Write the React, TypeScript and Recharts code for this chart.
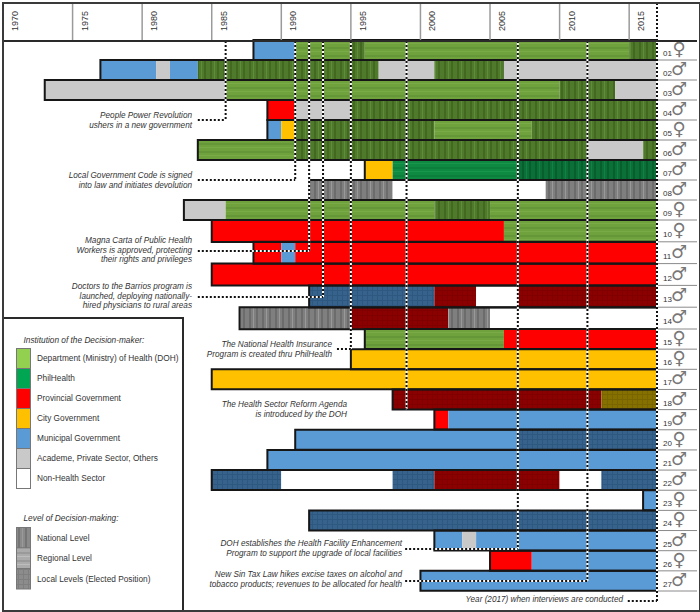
import { Bar, BarChart, Cell, LineChart, ReferenceLine, XAxis, YAxis } from "recharts"

const FONT = "'Liberation Sans', Arial, sans-serif"

const yearTicks = [1970, 1975, 1980, 1985, 1990, 1995, 2000, 2005, 2010, 2015]
const firstYear = 1970
const lastYear = 2017

const rowIds = ["01", "02", "03", "04", "05", "06", "07", "08", "09", "10", "11", "12", "13", "14", "15", "16", "17", "18", "19", "20", "21", "22", "23", "24", "25", "26", "27"]
const rowSexes = ["F", "M", "M", "M", "F", "M", "M", "M", "F", "F", "M", "M", "M", "M", "F", "F", "M", "M", "M", "F", "M", "M", "F", "F", "M", "F", "M"]
const rowStarts = [1988, 1977, 1973, 1989, 1989, 1984, 1996, 1992, 1983, 1985, 1988, 1985, 1992, 1987, 1996, 1995, 1985, 1998, 2001, 1991, 1989, 1985, 2016, 1992, 2001, 2005, 2000]

// each row: [institution+level, year the post ended]
const row01 = [["mun", 1991], ["dohR", 1995], ["dohN", 1996], ["dohR", 2015], ["dohN", 2017]]
const row02 = [["mun", 1981], ["oth", 1982], ["mun", 1984], ["dohN", 1997], ["oth", 2001], ["dohN", 2006], ["oth", 2017]]
const row03 = [["oth", 1986], ["dohR", 2010], ["dohN", 2014], ["oth", 2017]]
const row04 = [["prov", 1991], ["oth", 1995], ["dohN", 2017]]
const row05 = [["mun", 1990], ["city", 1991], ["dohN", 2001], ["dohR", 2008], ["dohN", 2017]]
const row06 = [["dohR", 1991], ["dohN", 2012], ["oth", 2016], ["dohN", 2017]]
const row07 = [["city", 1998], ["philR", 2007], ["philN", 2017]]
const row08 = [["noneN", 1998], ["none", 2009], ["noneN", 2017]]
const row09 = [["oth", 1986], ["dohR", 2001], ["dohN", 2005], ["dohR", 2017]]
const row10 = [["prov", 2006], ["dohR", 2017]]
const row11 = [["prov", 1990], ["mun", 1991], ["prov", 2017]]
const row12 = [["prov", 2017]]
const row13 = [["munL", 2001], ["provL", 2004], ["none", 2007], ["provL", 2017]]
const row14 = [["noneN", 1995], ["provL", 2002], ["noneN", 2005], ["none", 2017]]
const row15 = [["dohR", 2006], ["prov", 2017]]
const row16 = [["city", 2017]]
const row17 = [["city", 2017]]
const row18 = [["provL", 2013], ["cityL", 2017]]
const row19 = [["prov", 2002], ["mun", 2017]]
const row20 = [["mun", 2007], ["munL", 2017]]
const row21 = [["mun", 2017]]
const row22 = [["munL", 1990], ["none", 1998], ["munL", 2001], ["provL", 2010], ["none", 2013], ["munL", 2017]]
const row23 = [["mun", 2017]]
const row24 = [["munL", 2017]]
const row25 = [["mun", 2003], ["oth", 2004], ["mun", 2017]]
const row26 = [["prov", 2008], ["mun", 2017]]
const row27 = [["mun", 2017]]

const allRows = [row01, row02, row03, row04, row05, row06, row07, row08, row09, row10, row11, row12, row13, row14, row15, row16, row17, row18, row19, row20, row21, row22, row23, row24, row25, row26, row27]

// policy events: year of the dotted line, where its connector starts, and its height on the page
const eventYears = [1986, 1991, 1992, 1993, 1995, 1999, 2007, 2012]
const eventTextEnd = [1984, 1984, 1984, 1984, 1994, 1998.9, 1998.9, 1998.9]
const eventY = [120, 180, 251, 297, 349, 409, 549, 581]

const fills = {
  none: "#ffffff",
  noneN: "url(#noneN)",
  oth: "#c9c9c9",
  mun: "#5b9bd5",
  munL: "url(#munL)",
  city: "#ffc000",
  cityL: "url(#cityL)",
  prov: "#ff0000",
  provL: "url(#provL)",
  dohR: "url(#dohR)",
  dohN: "url(#dohN)",
  philR: "url(#philR)",
  philN: "url(#philN)",
}

const maxSegments = Math.max(...allRows.map((r) => r.length))

const table = allRows.map((segments, i) => {
  const row: any = {
    id: rowIds[i],
    sex: rowSexes[i],
    lead: rowStarts[i],
    span: [rowStarts[i], lastYear],
    codes: segments.map((s) => s[0]),
  }
  let prev = rowStarts[i]
  for (let k = 0; k < maxSegments; k++) {
    row[`s${k}`] = segments[k] ? (segments[k][1] as number) - prev : 0
    if (segments[k]) prev = segments[k][1] as number
  }
  return row
})

function Patterns() {
  const vertical = (id, a, b, c) => (
    <pattern id={id} width="13" height="4" patternUnits="userSpaceOnUse">
      <rect width="13" height="4" fill={a} />
      <rect x="2" width="2" height="4" fill={b} />
      <rect x="6" width="1" height="4" fill={c} />
      <rect x="9" width="2" height="4" fill={b} />
    </pattern>
  )
  const horizontal = (id, a, b, c) => (
    <pattern id={id} width="4" height="8" patternUnits="userSpaceOnUse">
      <rect width="4" height="8" fill={a} />
      <rect y="1" width="4" height="2" fill={b} />
      <rect y="5" width="4" height="1" fill={c} />
    </pattern>
  )
  const plaid = (id, a, b) => (
    <pattern id={id} width="5" height="5" patternUnits="userSpaceOnUse">
      <rect width="5" height="5" fill={a} />
      <rect x="2" width="1" height="5" fill={b} />
      <rect y="2" width="5" height="1" fill={b} />
    </pattern>
  )
  return (
    <svg width="0" height="0" style={{ position: "absolute" }}>
      <defs>
        {vertical("dohN", "#4f7a2c", "#42691f", "#5f8c38")}
        {horizontal("dohR", "#6fa13d", "#659739", "#79aa47")}
        {vertical("philN", "#0b7038", "#075f2e", "#118045")}
        {horizontal("philR", "#0f8a42", "#0c7f3c", "#17964c")}
        {vertical("noneN", "#7f7f7f", "#6c6c6c", "#999999")}
        {plaid("munL", "#36628b", "#2f5880")}
        {plaid("provL", "#8b0000", "#800000")}
        {plaid("cityL", "#857000", "#7a6600")}
        {vertical("legN", "#8a8a8a", "#757575", "#9a9a9a")}
        {horizontal("legR", "#ababab", "#9a9a9a", "#bdbdbd")}
        {plaid("legL", "#8c8c8c", "#7f7f7f")}
      </defs>
    </svg>
  )
}

function RowTick({ x, y, payload, rowHeight }: any) {
  const sex = rowSexes[rowIds.indexOf(payload.value)]
  return (
    <g>
      <line x1={x} x2={x + 40} y1={y + rowHeight / 2} y2={y + rowHeight / 2} stroke="#8a8a8a" strokeWidth={1} />
      <text x={x + 6} y={y + 6} fontSize={8} fontFamily={FONT} fill="#333">
        {payload.value}
      </text>
      <text x={x + 22} y={y + 5} textAnchor="middle" fontSize={18} fontFamily="'DejaVu Sans'" fill="#777">
        {sex === "F" ? "♀" : "♂"}
      </text>
    </g>
  )
}

function RowChart({ from, to, top, bottom }: any) {
  const data = table.slice(from, to)
  const rowHeight = (bottom - top) / data.length
  return (
    <div style={{ position: "absolute", left: 0, top: top - 2 }}>
      <BarChart
        width={700}
        height={bottom - top + 4}
        data={data}
        layout="vertical"
        barCategoryGap={0}
        margin={{ top: 2, right: 3, bottom: 2, left: 3 }}
      >
        <XAxis type="number" domain={[firstYear, lastYear]} allowDataOverflow hide />
        <XAxis xAxisId="outline" type="number" domain={[firstYear, lastYear]} hide />
        <YAxis
          type="category"
          dataKey="id"
          orientation="right"
          width={40}
          axisLine={false}
          tickLine={false}
          tickSize={0}
          tickMargin={0}
          interval={0}
          tick={<RowTick rowHeight={rowHeight} />}
        />
        <YAxis yAxisId="outline" type="category" dataKey="id" orientation="right" hide />
        <Bar dataKey="lead" stackId="a" fill="none" isAnimationActive={false} />
        {Array.from({ length: maxSegments }, (_, k) => (
          <Bar key={k} dataKey={`s${k}`} stackId="a" isAnimationActive={false}>
            {data.map((row) => (
              <Cell key={row.id} fill={fills[row.codes[k]] || "none"} />
            ))}
          </Bar>
        ))}
        <Bar
          xAxisId="outline"
          yAxisId="outline"
          dataKey="span"
          fill="none"
          stroke="#161616"
          strokeWidth={2}
          isAnimationActive={false}
        />
      </BarChart>
    </div>
  )
}

function YearTick({ x, payload }: any) {
  return (
    <g>
      {payload.value > firstYear && <line x1={x} x2={x} y1={3} y2={40} stroke="#9a9a9a" strokeWidth={1.5} />}
      <text
        transform={`translate(${x + 15},21) rotate(-90)`}
        textAnchor="middle"
        fontSize={9}
        fontFamily={FONT}
        fill="#333"
      >
        {payload.value}
      </text>
    </g>
  )
}

function Overlay() {
  const dotted = (key, segment) => [
    <ReferenceLine key={`${key}w`} segment={segment} stroke="#ffffff" strokeWidth={2} ifOverflow="visible" />,
    <ReferenceLine key={`${key}b`} segment={segment} stroke="#111111" strokeWidth={2} strokeDasharray="2 2" ifOverflow="visible" />,
  ]
  return (
    <div style={{ position: "absolute", left: 0, top: 0 }}>
      <LineChart
        width={700}
        height={612}
        data={yearTicks.map((year) => ({ year }))}
        margin={{ top: 3, right: 43, bottom: 0, left: 3 }}
      >
        <XAxis
          dataKey="year"
          type="number"
          orientation="top"
          domain={[firstYear, lastYear]}
          ticks={yearTicks}
          height={37}
          axisLine={false}
          tickLine={false}
          interval={0}
          tick={<YearTick />}
        />
        <YAxis type="number" domain={[40, 612]} allowDataOverflow reversed hide />
        {eventYears.flatMap((year, i) => [
          ...dotted(`v${i}`, [{ x: year, y: 41 }, { x: year, y: eventY[i] }]),
          ...dotted(`h${i}`, [{ x: eventTextEnd[i], y: eventY[i] }, { x: year, y: eventY[i] }]),
        ])}
        {dotted("v2017", [{ x: lastYear, y: 3 }, { x: lastYear, y: 601 }])}
        {dotted("h2017", [{ x: 2014.9, y: 601 }, { x: lastYear, y: 601 }])}
      </LineChart>
    </div>
  )
}

const notes = [
  { right: 192, y: 111, lines: ["People Power Revolution", "ushers in a new government"] },
  { right: 192, y: 171, lines: ["Local Government Code is signed", "into law and initiates devolution"] },
  { right: 192, y: 236, lines: ["Magna Carta of Public Health", "Workers is approved, protecting", "their rights and privileges"] },
  { right: 192, y: 282, lines: ["Doctors to the Barrios program is", "launched, deploying nationally-", "hired physicians to rural areas"] },
  { right: 332, y: 340, lines: ["The National Health Insurance", "Program is created thru PhilHealth"] },
  { right: 347, y: 400, lines: ["The Health Sector Reform Agenda", "is introduced by the DOH"] },
  { right: 402, y: 539, lines: ["DOH establishes the Health Facility Enhancement", "Program to support the upgrade of local facilities"] },
  { right: 402, y: 570, lines: ["New Sin Tax Law hikes excise taxes on alcohol and", "tobacco products; revenues to be allocated for health"] },
  { right: 623, y: 595, lines: ["Year (2017) when interviews are conducted"] },
]

const institutionLabels = ["Department (Ministry) of Health (DOH)", "PhilHealth", "Provincial Government", "City Government", "Municipal Government", "Academe, Private Sector, Others", "Non-Health Sector"]
const institutionColors = ["#92d050", "#00a651", "#ff0000", "#ffc000", "#5b9bd5", "#c9c9c9", "#ffffff"]
const levelLabels = ["National Level", "Regional Level", "Local Levels (Elected Position)"]
const levelFills = ["url(#legN)", "url(#legR)", "url(#legL)"]

function abs(left, top, extra = {}) {
  return { position: "absolute", left, top, ...extra } as any
}

function LegendBox() {
  const textStyle = { fontFamily: FONT, fontSize: 8.3, color: "#333", whiteSpace: "nowrap", lineHeight: "12px" }
  return (
    <div style={abs(2, 317, { width: 180, height: 291, borderTop: "2px solid #2a2a2a", borderRight: "2px solid #2a2a2a", background: "#fff" })}>
      <div style={abs(21.5, 15, { ...textStyle, fontStyle: "italic" })}>Institution of the Decision-maker:</div>
      {institutionLabels.map((label, i) => (
        <div key={label}>
          <div style={abs(14, 29 + i * 20, { width: 15, height: 20.5, background: institutionColors[i], border: "1px solid #777", boxSizing: "border-box" })} />
          <div style={abs(35, 33 + i * 20, textStyle)}>{label}</div>
        </div>
      ))}
      <div style={abs(21.5, 193, { ...textStyle, fontStyle: "italic" })}>Level of Decision-making:</div>
      <svg style={abs(14, 208)} width="15" height="63">
        {levelLabels.map((label, i) => (
          <rect key={label} x="0.5" y={0.5 + i * 20.5} width="14" height="20.5" fill={levelFills[i]} stroke="#777" />
        ))}
      </svg>
      {levelLabels.map((label, i) => (
        <div key={label} style={abs(35, 213 + i * 20.4, textStyle)}>{label}</div>
      ))}
    </div>
  )
}

export default function App() {
  return (
    <div style={{ position: "absolute", left: 0, top: 0, width: 700, height: 612, background: "#fff", overflow: "hidden" }}>
      <Patterns />
      <RowChart from={0} to={9} top={40} bottom={220} />
      <RowChart from={9} to={14} top={220} bottom={329} />
      <RowChart from={14} to={27} top={329} bottom={591} />
      <Overlay />
      <div style={abs(3, 39.5, { width: 694, height: 2, background: "#2a2a2a" })} />
      {notes.map((n) => (
        <div
          key={n.lines[0]}
          style={abs(n.right - 300, n.y, {
            width: 300,
            textAlign: "right",
            fontFamily: FONT,
            fontSize: 8.2,
            fontStyle: "italic",
            lineHeight: "9.6px",
            color: "#333",
          })}
        >
          {n.lines.map((line) => (
            <div key={line} style={{ whiteSpace: "nowrap" }}>{line}</div>
          ))}
        </div>
      ))}
      <LegendBox />
      <div style={abs(2, 2, { width: 695, height: 606, border: "2px solid #3a3a3a", pointerEvents: "none" })} />
    </div>
  )
}
